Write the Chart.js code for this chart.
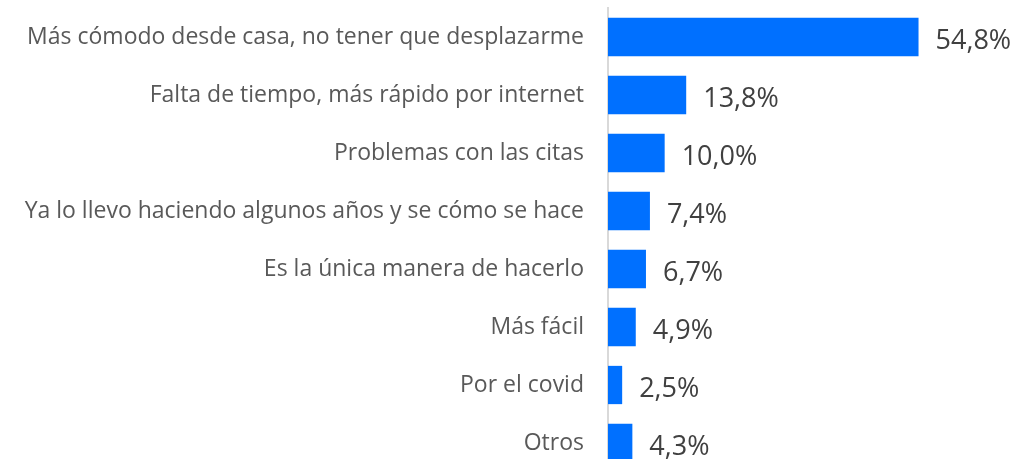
<!DOCTYPE html>
<html>
<head>
<meta charset="utf-8">
<script src="https://cdn.jsdelivr.net/npm/chart.js@4"></script>
<style>
  html, body { margin: 0; padding: 0; background: #fff; overflow: hidden; }
  #wrap { width: 1020px; height: 480px; position: relative; }
</style>
</head>
<body>
<div id="wrap"><canvas id="chart"></canvas></div>
<script>
// data
const reasons = [
  "Más cómodo desde casa, no tener que desplazarme",
  "Falta de tiempo, más rápido por internet",
  "Problemas con las citas",
  "Ya lo llevo haciendo algunos años y se cómo se hace",
  "Es la única manera de hacerlo",
  "Más fácil",
  "Por el covid",
  "Otros"
];
const shares = [54.8, 13.8, 10.0, 7.4, 6.7, 4.9, 2.5, 4.3];

const fmt = v => v.toFixed(1).replace(".", ",") + "%";

// value labels to the right of each bar
const valueLabels = {
  id: "valueLabels",
  afterDatasetsDraw(chart) {
    const ctx = chart.ctx;
    const meta = chart.getDatasetMeta(0);
    ctx.save();
    ctx.font = "27px 'Open Sans'";
    ctx.fillStyle = "#404040";
    ctx.textBaseline = "middle";
    ctx.textAlign = "left";
    meta.data.forEach((bar, i) => {
      ctx.fillText(fmt(shares[i]), bar.x + 17, bar.y + 4);
    });
    ctx.restore();
  }
};

new Chart(document.getElementById("chart"), {
  type: "bar",
  data: {
    labels: reasons,
    datasets: [{
      data: shares,
      backgroundColor: "#0070FF",
      barPercentage: 0.66,
      categoryPercentage: 1.0
    }]
  },
  options: {
    indexAxis: "y",
    responsive: true,
    maintainAspectRatio: false,
    animation: false,
    layout: { padding: { top: 8, bottom: 8, right: 72, left: 0 } },
    plugins: { legend: { display: false }, tooltip: { enabled: false } },
    scales: {
      x: {
        display: false,
        min: 0,
        max: 60
      },
      y: {
        afterFit(scale) {
          scale.width = 608;
          scale.paddingTop = 0;
          scale.paddingBottom = 0;
        },
        grid: { display: false, drawTicks: false },
        border: { display: true, color: "#D9D9D9", width: 2 },
        ticks: {
          color: "#595959",
          font: { family: "'Open Sans'", size: 23 },
          padding: 24
        }
      }
    }
  },
  plugins: [valueLabels]
});
</script>
</body>
</html>
